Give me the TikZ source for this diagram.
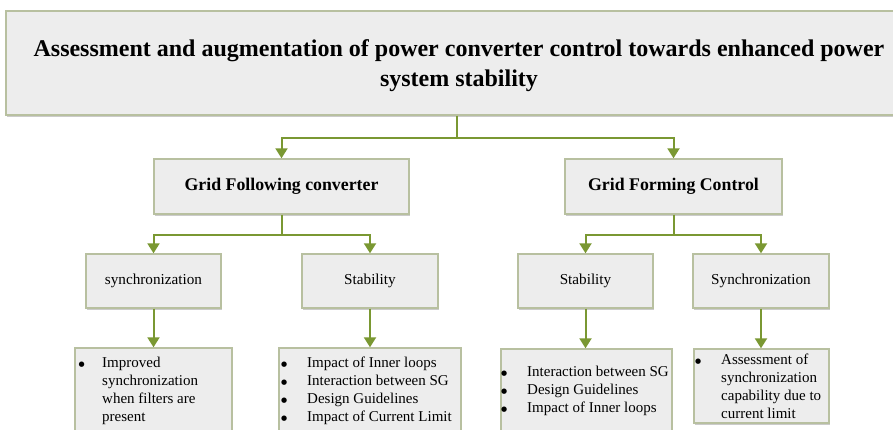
\documentclass[tikz,border=0pt]{standalone}
\usepackage{fontspec}
\setmainfont{Liberation Serif}
\newfontfamily\symfont{DejaVu Sans}
\usetikzlibrary{arrows.meta,shadows}
\definecolor{olivec}{RGB}{122,152,50}
\definecolor{boxline}{RGB}{184,192,160}
\definecolor{boxfill}{RGB}{237,237,237}
\newcommand{\bul}{\raisebox{1pt}{\symfont\fontsize{7}{8}\selectfont ●}}
\begin{document}
\begin{tikzpicture}[x=1pt,y=-1pt,
  box/.style={draw=boxline, line width=1.4pt, fill=boxfill,
    drop shadow={shadow xshift=1.2pt,shadow yshift=-1.8pt,fill=black!40,opacity=0.5},
    inner sep=0pt},
  conn/.style={draw=olivec, line width=2pt},
  arr/.style={conn, -{Triangle[width=12pt,length=10pt]}},
  titlefont/.style={font=\fontsize{24}{30}\selectfont\bfseries},
  midfont/.style={font=\fontsize{17.8}{21}\selectfont\bfseries},
  lowfont/.style={font=\fontsize{15.2}{18}\selectfont},
  listfont/.style={font=\fontsize{15}{18}\selectfont, anchor=base west, inner sep=0pt}
]
\useasboundingbox (0,0) rectangle (893,430);
\clip (0,0) rectangle (893,430);
\fill[white] (0,0) rectangle (893,430);

% top box
\node[box, minimum width=906pt, minimum height=104pt] (top) at (459,63) {};
\node[titlefont, align=center] (title) at (459,66)
  {Assessment and augmentation of power converter control towards enhanced power\\system stability};

% level 2
\node[box, minimum width=255pt, minimum height=55pt, midfont] (gf) at (281.5,186.5) {Grid Following converter};
\node[box, minimum width=217pt, minimum height=55pt, midfont] (gfm) at (673.5,186.5) {Grid Forming Control};

% level 3
\node[box, minimum width=135pt, minimum height=54pt, lowfont] (s1) at (153.5,281) {synchronization};
\node[box, minimum width=136pt, minimum height=54pt, lowfont] (t1) at (370,281) {Stability};
\node[box, minimum width=135pt, minimum height=54pt, lowfont] (t2) at (585.5,281) {Stability};
\node[box, minimum width=136pt, minimum height=54pt, lowfont] (s2) at (761,281) {Synchronization};

% level 4 boxes
\node[box, minimum width=157pt, minimum height=92pt] (a4) at (153.5,394) {};
\node[box, minimum width=182pt, minimum height=92pt] (b4) at (370,394) {};
\node[box, minimum width=171pt, minimum height=91pt] (c4) at (586.5,394.5) {};
\node[box, minimum width=135pt, minimum height=74pt] (d4) at (761.5,386) {};

% level 4 texts
\node[listfont] (a4t) at (78.5,367) {\begin{tabular}[t]{@{}p{23.5pt}@{}l@{}}
\bul & Improved\\ & synchronization\\ & when filters are\\ & present\end{tabular}};
\node[listfont] (b4t) at (281,367) {\begin{tabular}[t]{@{}p{26pt}@{}l@{}}
\bul & Impact of Inner loops\\ \bul & Interaction between SG\\
\bul & Design Guidelines\\ \bul & Impact of Current Limit\end{tabular}};
\node[listfont] (c4t) at (501,376) {\begin{tabular}[t]{@{}p{26pt}@{}l@{}}
\bul & Interaction between SG\\ \bul & Design Guidelines\\
\bul & Impact of Inner loops\end{tabular}};
\node[listfont] (d4t) at (695,364) {\begin{tabular}[t]{@{}p{26pt}@{}l@{}}
\bul & Assessment of\\ & synchronization\\ & capability due to\\ & current limit\end{tabular}};

% connectors
\coordinate (j1) at (457,138);
\draw[conn] (top.south -| j1) -- (j1);
\draw[arr] (j1) -| (gf.north);
\draw[arr] (j1) -| (gfm.north);

\path (gf.south) ++(0,20) coordinate (j2);
\draw[conn] (gf.south) -- (j2);
\draw[arr] (j2) -| (s1.north);
\draw[arr] (j2) -| (t1.north);

\path (gfm.south) ++(0,20) coordinate (j3);
\draw[conn] (gfm.south) -- (j3);
\draw[arr] (j3) -| (t2.north);
\draw[arr] (j3) -| (s2.north);

\draw[arr] (s1.south) -- (s1.south |- a4.north);
\draw[arr] (t1.south) -- (t1.south |- b4.north);
\draw[arr] (t2.south) -- (t2.south |- c4.north);
\draw[arr] (s2.south) -- (s2.south |- d4.north);
\end{tikzpicture}
\end{document}
